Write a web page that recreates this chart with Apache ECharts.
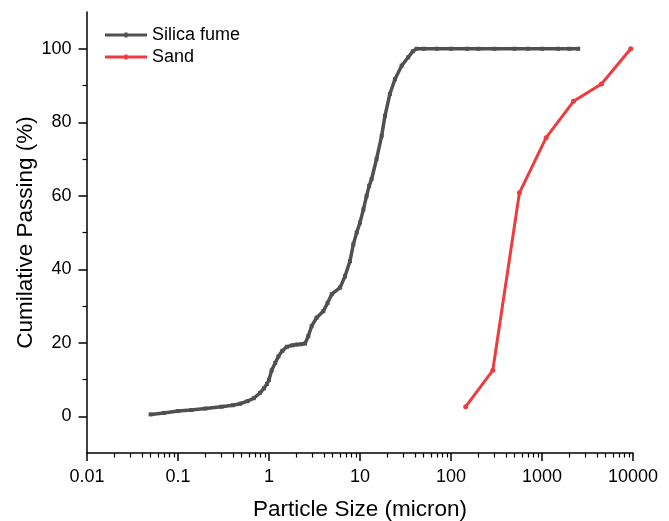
<!DOCTYPE html>
<html>
<head>
<meta charset="utf-8">
<script src="https://cdn.jsdelivr.net/npm/echarts@6/dist/echarts.min.js"></script>
<style>
  html, body { margin: 0; padding: 0; background: #fff; }
  #chart { width: 669px; height: 521px; }
</style>
</head>
<body>
<div id="chart"></div>
<script>
// silica fume: particle size (micron) / cumulative passing (%)
const silicaSize = [0.05, 0.07, 0.1, 0.14, 0.2, 0.3, 0.4, 0.48, 0.58, 0.68, 0.8, 0.88, 0.95, 1.0, 1.07, 1.17, 1.27, 1.4, 1.57, 1.8, 2.02, 2.25, 2.49, 2.7, 2.94, 3.33, 3.95, 4.4, 4.89, 6.04, 6.84, 7.76, 8.45, 9.2, 10, 10.9, 11.8, 12.6, 13.4, 15.2, 17.3, 18.8, 21.3, 24.2, 28.7, 33.9, 38, 41.9, 50, 70, 100, 150, 200, 300, 500, 700, 1000, 1500, 2000, 2500];
const silicaPass = [0.5, 0.9, 1.4, 1.7, 2.1, 2.6, 3.0, 3.4, 4.1, 4.9, 6.4, 7.6, 8.8, 9.9, 12.5, 14.5, 16.3, 17.8, 18.9, 19.3, 19.5, 19.6, 19.8, 21.8, 24.5, 26.8, 28.6, 30.8, 33.2, 35, 38.1, 42.2, 46.8, 50, 52.7, 56.3, 59.9, 62.7, 64.5, 70, 76.3, 81.7, 87.7, 91.7, 95.4, 97.7, 99.3, 100, 100, 100, 100, 100, 100, 100, 100, 100, 100, 100, 100, 100];

// sand
const sandSize = [145, 288, 565, 1110, 2220, 4500, 9450];
const sandPass = [2.6, 12.5, 60.8, 75.8, 85.7, 90.4, 100];

// axis ticks
const xMajorTicks = [0.01, 0.1, 1, 10, 100, 1000, 10000];
const xMinorTicks = [];
for (let d = 0.01; d < 10000; d *= 10) {
  for (let m = 2; m <= 9; m++) xMinorTicks.push(+(m * d).toPrecision(3));
}
const yMajorTicks = [0, 20, 40, 60, 80, 100];
const yMinorTicks = [10, 30, 50, 70, 90];

const zip = (a, b) => a.map((v, i) => [v, b[i]]);

const font = 'Liberation Sans, Arial, sans-serif';
const axisColor = '#000';
// legend line with a small marker in the middle
const legendIcon = 'path://M0,1H42V4H0Z M19.5,0H22.5V5H19.5Z';

const chart = echarts.init(document.getElementById('chart'));

const option = {
  animation: false,
  backgroundColor: '#fff',
  grid: { left: 87, right: 36, top: 12, bottom: 68, containLabel: false, outerBoundsMode: 'none' },
  legend: {
    orient: 'vertical',
    left: 100,
    top: 21,
    itemWidth: 42,
    itemHeight: 5,
    itemGap: 4,
    textStyle: { fontFamily: font, fontSize: 18, color: '#000' },
    data: [
      { name: 'Silica fume', icon: legendIcon },
      { name: 'Sand', icon: legendIcon }
    ]
  },
  xAxis: [
    {
      type: 'log',
      logBase: 10,
      min: 0.01,
      max: 10000,
      name: 'Particle Size (micron)',
      nameLocation: 'middle',
      nameGap: 45,
      nameMoveOverlap: false,
      nameTextStyle: { fontFamily: font, fontSize: 22.5, color: '#000' },
      axisLine: { show: true, onZero: false, lineStyle: { color: axisColor, width: 1.5 } },
      axisTick: { show: true, length: 8, customValues: xMajorTicks, lineStyle: { color: axisColor, width: 1.5 } },
      axisLabel: {
        customValues: xMajorTicks,
        margin: 15,
        fontFamily: font,
        fontSize: 18,
        color: '#000',
        formatter: v => String(+v)
      },
      splitLine: { show: false }
    },
    {
      type: 'log',
      logBase: 10,
      min: 0.01,
      max: 10000,
      position: 'bottom',
      axisLine: { show: false, onZero: false },
      axisTick: { show: true, length: 4.5, customValues: xMinorTicks, lineStyle: { color: axisColor, width: 1.2 } },
      axisLabel: { show: false },
      splitLine: { show: false }
    }
  ],
  yAxis: [
    {
      type: 'value',
      min: -10,
      max: 110,
      name: 'Cumilative Passing (%)',
      nameLocation: 'middle',
      nameGap: 50,
      nameMoveOverlap: false,
      nameTextStyle: { fontFamily: font, fontSize: 22.5, color: '#000' },
      axisLine: { show: true, onZero: false, lineStyle: { color: axisColor, width: 1.5 } },
      axisTick: { show: true, length: 8.5, customValues: yMajorTicks, lineStyle: { color: axisColor, width: 1.5 } },
      axisLabel: { customValues: yMajorTicks, margin: 15.5, fontFamily: font, fontSize: 18, color: '#000' },
      splitLine: { show: false }
    },
    {
      type: 'value',
      min: -10,
      max: 110,
      position: 'left',
      axisLine: { show: false, onZero: false },
      axisTick: { show: true, length: 4.5, customValues: yMinorTicks, lineStyle: { color: axisColor, width: 1.2 } },
      axisLabel: { show: false },
      splitLine: { show: false }
    }
  ],
  series: [
    {
      name: 'Silica fume',
      type: 'line',
      data: zip(silicaSize, silicaPass),
      symbol: 'rect',
      symbolSize: 4,
      itemStyle: { color: '#505050' },
      lineStyle: { color: '#505050', width: 3.5 }
    },
    {
      name: 'Sand',
      type: 'line',
      data: zip(sandSize, sandPass),
      symbol: 'circle',
      symbolSize: 5,
      itemStyle: { color: '#ef3b3f' },
      lineStyle: { color: '#ef3b3f', width: 3 }
    }
  ]
};

chart.setOption(option);
</script>
</body>
</html>
